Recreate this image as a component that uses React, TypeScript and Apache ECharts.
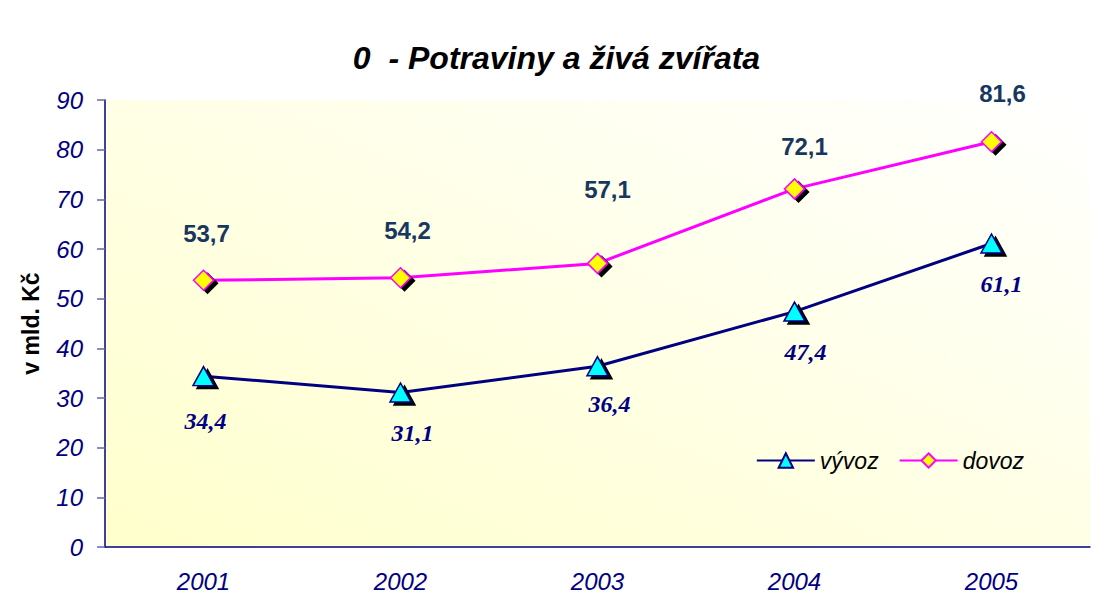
import React, { useEffect, useRef } from "react";
import * as echarts from "echarts";

const years = ["2001", "2002", "2003", "2004", "2005"];
const vyvoz = [34.4, 31.1, 36.4, 47.4, 61.1];
const dovoz = [53.7, 54.2, 57.1, 72.1, 81.6];
const yTicks = { min: 0, max: 90, interval: 10 };

const fmt = (v: number) => v.toFixed(1).replace(".", ",");

export default function App() {
  const ref = useRef<HTMLDivElement>(null);
  useEffect(() => {
    if (!ref.current) return;
    const chart = echarts.init(ref.current, null, { renderer: "svg" });
    const navy = "#000080";
    const sans = "Arial, Liberation Sans";
    // label placement tweaks (style only)
    const dovozDist = [24, 25, 51, 20, 25];
    const dovozDx = [3, 7, 10, 10, 11];
    const vyvozDist = [23, 18, 16, 18, 18];
    const vyvozDx = [2, 12, 12, 11, 10];
    chart.setOption({
      animation: false,
      backgroundColor: "#ffffff",
      title: {
        text: "{a|0}{b|  - Potraviny a živá zvířata}",
        left: "center",
        top: 37,
        textStyle: {
          rich: {
            a: { fontFamily: sans, fontStyle: "italic", fontSize: 32, color: "#000" },
            b: { fontFamily: sans, fontStyle: "italic", fontWeight: "bold", fontSize: 32, color: "#000" },
          },
        },
      },
      legend: {
        right: 84,
        top: 444,
        itemWidth: 58,
        itemHeight: 18,
        itemGap: 20,
        textStyle: { fontFamily: sans, fontStyle: "italic", fontSize: 23, color: "#000" },
        data: ["vývoz", "dovoz"],
      },
      grid: {
        left: 105,
        right: 23,
        top: 100,
        bottom: 69,
        show: true,
        borderWidth: 0,
        backgroundColor: new echarts.graphic.LinearGradient(0, 1, 1, 0, [
          { offset: 0, color: "#FFFFCC" },
          { offset: 1, color: "#FFFFFF" },
        ]),
      },
      xAxis: {
        type: "category",
        data: years,
        boundaryGap: true,
        axisLine: { lineStyle: { color: navy, width: 1.5 } },
        axisTick: { length: 8, lineStyle: { color: navy, width: 1.5 } },
        axisLabel: { margin: 22, fontFamily: sans, fontStyle: "italic", fontSize: 24, color: navy },
        splitLine: { show: false },
      },
      yAxis: {
        type: "value",
        min: yTicks.min,
        max: yTicks.max,
        interval: yTicks.interval,
        name: "v mld. Kč",
        nameLocation: "middle",
        nameGap: 63,
        nameTextStyle: { fontFamily: sans, fontWeight: "bold", fontSize: 23, color: "#000" },
        axisLine: { show: true, lineStyle: { color: navy, width: 1.5 } },
        axisTick: { show: true, length: 8, lineStyle: { color: "#6666aa", width: 1.5 } },
        axisLabel: { margin: 22, fontFamily: sans, fontStyle: "italic", fontSize: 24, color: navy },
        splitLine: { show: false },
      },
      series: [
        {
          name: "vývoz",
          type: "line",
          data: vyvoz.map((v, i) => ({ value: v, label: { distance: vyvozDist[i], offset: [vyvozDx[i], 0] } })),
          symbol: "triangle",
          symbolSize: [21, 19],
          lineStyle: { color: navy, width: 3 },
          itemStyle: {
            color: "#00FFFF",
            borderColor: navy,
            borderWidth: 1.5,
            shadowColor: "#000",
            shadowBlur: 0,
            shadowOffsetX: 4,
            shadowOffsetY: 3,
          },
          label: {
            show: true,
            position: "bottom",
            formatter: (p: any) => fmt(p.value),
            fontFamily: "Times New Roman, Liberation Serif",
            fontStyle: "italic",
            fontWeight: "bold",
            fontSize: 24,
            color: navy,
          },
          z: 3,
        },
        {
          name: "dovoz",
          type: "line",
          data: dovoz.map((v, i) => ({ value: v, label: { distance: dovozDist[i], offset: [dovozDx[i], 0] } })),
          symbol: "diamond",
          symbolSize: 20,
          lineStyle: { color: "#FF00FF", width: 3 },
          itemStyle: {
            color: "#FFFF00",
            borderColor: "#FF00FF",
            borderWidth: 1.5,
            shadowColor: "#000",
            shadowBlur: 0,
            shadowOffsetX: 4,
            shadowOffsetY: 3,
          },
          label: {
            show: true,
            position: "top",
            formatter: (p: any) => fmt(p.value),
            fontFamily: sans,
            fontWeight: "bold",
            fontSize: 24,
            color: "#17375E",
          },
          z: 3,
        },
      ],
    });
    return () => chart.dispose();
  }, []);
  return <div ref={ref} style={{ position: "fixed", left: 0, top: 0, width: 1113, height: 616 }} />;
}
